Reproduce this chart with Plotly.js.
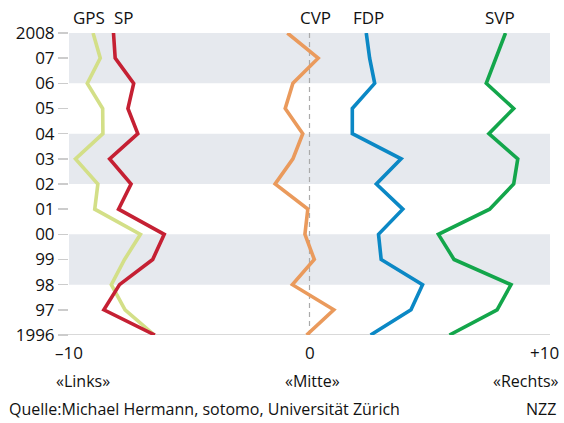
<!DOCTYPE html>
<html>
<head>
<meta charset="utf-8">
<script src="https://cdn.plot.ly/plotly-3.0.1.min.js"></script>
<style>html,body{margin:0;padding:0;background:#fff}#chart{width:564px;height:423px}</style>
</head>
<body>
<div id="chart"></div>
<script>
var years = [2008, 2007, 2006, 2005, 2004, 2003, 2002, 2001, 2000, 1999, 1998, 1997, 1996];
var yearLabels = ['2008', '07', '06', '05', '04', '03', '02', '01', '00', '99', '98', '97', '1996'];
var GPS = [-9.0, -8.7, -9.24, -8.6, -8.59, -9.73, -8.8, -8.93, -7.03, -7.69, -8.24, -7.67, -6.45];
var SP  = [-8.15, -8.08, -7.31, -7.55, -7.14, -8.31, -7.42, -7.94, -6.04, -6.52, -7.9, -8.55, -6.43];
var CVP = [-0.92, 0.36, -0.69, -1.01, -0.28, -0.69, -1.43, -0.07, -0.19, 0.2, -0.71, 1.01, -0.12];
var FDP = [2.36, 2.5, 2.71, 1.78, 1.78, 3.81, 2.78, 3.88, 2.87, 2.98, 4.7, 4.22, 2.54];
var SVP = [8.15, 7.75, 7.35, 8.49, 7.46, 8.66, 8.49, 7.49, 5.36, 6.01, 8.38, 7.8, 5.82];
var parties = ['GPS', 'SP', 'CVP', 'FDP', 'SVP'];
var xTicks = [-10, 0, 10];
var xTickText = ['–10', '0', '+10'];
var scaleText = ['«Links»', '«Mitte»', '«Rechts»'];
var sourceText = 'Quelle:Michael Hermann, sotomo, Universität Zürich';
var creditText = 'NZZ';

var series = {GPS: GPS, SP: SP, CVP: CVP, FDP: FDP, SVP: SVP};
var colors = {GPS: '#d3df87', SP: '#c52033', CVP: '#ea9a5c', FDP: '#0b88c5', SVP: '#13a64b'};
var labelX = {GPS: -9.15, SP: -7.7, CVP: 0.27, FDP: 2.45, SVP: 7.9};

var FONT = 'Open Sans, Noto Sans, sans-serif';
var W = 564, H = 423, ML = 69, MR = 14, MT = 33, MB = 88;
var plotW = W - ML - MR, plotH = H - MT - MB;
function py(pix) { return 1 - (pix - MT) / plotH; }
function px(pix) { return (pix - ML) / plotW; }

var traces = parties.map(function (p) {
  return {
    x: series[p], y: years, type: 'scatter', mode: 'lines', name: p,
    line: {color: colors[p], width: 3.6}, hoverinfo: 'skip'
  };
});

var shapes = [];
[[2006, 2008], [2002, 2004], [1998, 2000]].forEach(function (b) {
  shapes.push({type: 'rect', xref: 'paper', yref: 'y', x0: 0, x1: 1, y0: b[0], y1: b[1],
    fillcolor: '#e6e9ee', line: {width: 0}, layer: 'below'});
});
shapes.push({type: 'line', xref: 'x', yref: 'y', x0: 0, x1: 0, y0: 1996, y1: 2008,
  line: {color: '#aaaaaa', width: 1.2, dash: '5px,4px'}, layer: 'below'});
shapes.push({type: 'line', xref: 'paper', yref: 'y', x0: px(58), x1: 1, y0: 1996, y1: 1996,
  line: {color: '#cccccc', width: 1.5}, layer: 'below'});

var annotations = [];
parties.forEach(function (p) {
  annotations.push({text: p, x: labelX[p], xref: 'x', xanchor: 'center', y: 1, yref: 'paper',
    yanchor: 'bottom', yshift: 2, showarrow: false, font: {family: FONT, size: 17, color: '#111'}});
});
xTicks.forEach(function (v, i) {
  var last = i === xTicks.length - 1;
  annotations.push({text: xTickText[i], x: last ? px(561) : px(ML + (v + 10) / 20 * plotW),
    xref: 'paper', xanchor: last ? 'right' : 'center',
    y: py(352), yref: 'paper', yanchor: 'middle',
    showarrow: false, font: {family: FONT, size: 17, color: '#111'}});
  annotations.push({text: scaleText[i], x: last ? px(561) : (i === 0 ? px(83) : px(312)),
    xref: 'paper', xanchor: last ? 'right' : 'center',
    y: py(381), yref: 'paper', yanchor: 'middle',
    showarrow: false, font: {family: FONT, size: 16, color: '#111'}});
});
annotations.push({text: sourceText, x: px(7), xref: 'paper', xanchor: 'left',
  y: py(409), yref: 'paper', yanchor: 'middle', showarrow: false,
  font: {family: FONT, size: 16, color: '#111'}});
annotations.push({text: creditText, x: px(558), xref: 'paper', xanchor: 'right',
  y: py(409), yref: 'paper', yanchor: 'middle', showarrow: false,
  font: {family: FONT, size: 16, color: '#111'}});

var layout = {
  width: W, height: H,
  margin: {l: ML, r: MR, t: MT, b: MB},
  paper_bgcolor: '#ffffff', plot_bgcolor: 'rgba(0,0,0,0)',
  showlegend: false,
  font: {family: FONT, size: 17, color: '#111'},
  xaxis: {range: [-10, 10], showgrid: false, zeroline: false, showticklabels: false,
    ticks: '', showline: false, fixedrange: true},
  yaxis: {range: [1996, 2008], tickvals: years, ticktext: yearLabels, showgrid: false,
    zeroline: false, ticks: 'outside', ticklen: 10, tickcolor: '#cccccc', tickwidth: 1.5,
    tickfont: {family: FONT, size: 17, color: '#111'}, showline: false, fixedrange: true},
  shapes: shapes,
  annotations: annotations
};

Plotly.newPlot('chart', traces, layout, {displayModeBar: false, staticPlot: true});
</script>
</body>
</html>
